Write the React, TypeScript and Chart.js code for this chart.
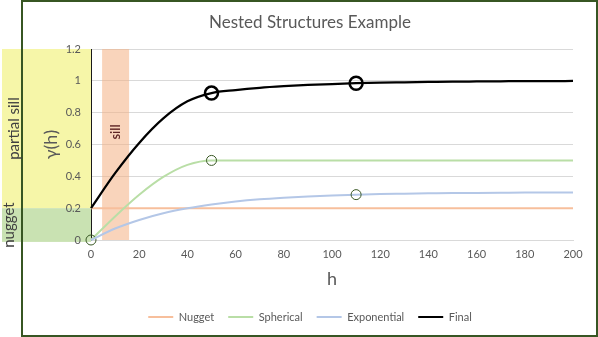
import React, { useEffect, useRef } from "react";
import { Chart, registerables } from "chart.js";

Chart.register(...registerables);

// ---- data ----
const hValues = [0, 10, 20, 30, 40, 50, 60, 70, 80, 90, 100, 110, 120, 130, 140, 150, 160, 170, 180, 190, 200];
const nugget = [0.2, 0.2, 0.2, 0.2, 0.2, 0.2, 0.2, 0.2, 0.2, 0.2, 0.2, 0.2, 0.2, 0.2, 0.2, 0.2, 0.2, 0.2, 0.2, 0.2, 0.2];
const spherical = [0, 0.148, 0.284, 0.396, 0.472, 0.5, 0.5, 0.5, 0.5, 0.5, 0.5, 0.5, 0.5, 0.5, 0.5, 0.5, 0.5, 0.5, 0.5, 0.5, 0.5];
const exponential = [0, 0.072, 0.126, 0.168, 0.199, 0.223, 0.242, 0.256, 0.266, 0.274, 0.28, 0.285, 0.289, 0.291, 0.293, 0.295, 0.296, 0.297, 0.298, 0.298, 0.299];
const finalModel = [0.2, 0.42, 0.61, 0.764, 0.871, 0.923, 0.942, 0.956, 0.966, 0.974, 0.98, 0.985, 0.989, 0.991, 0.993, 0.995, 0.996, 0.997, 0.998, 0.998, 0.999];

const seriesLabels = ["Nugget", "Spherical", "Exponential", "Final"];
const sphericalMarkers = [0, 50];
const exponentialMarkers = [110];
const finalMarkers = [50, 110];

const titleText = "Nested Structures Example";
const xTitle = "h";
const yTitle = "γ(h)";
const xRange = [0, 200];
const xStep = 20;
const yRange = [0, 1.2];
const yStep = 0.2;

// annotation ranges (value units)
const partialSillRange = [0.2, 1.2];
const nuggetRange = [-0.012, 0.2];
const sillBand = [4.6, 15.8];

const FONT = "Lato";
const TEXT = "#595959";

const toXY = (ys: number[]) => hValues.map((h, i) => ({ x: h, y: ys[i] }));

const annotations = {
  id: "annotations",
  beforeDraw(chart: any) {
    const { ctx, chartArea, scales } = chart;
    const y = scales.y;
    ctx.save();
    const left = 2;
    const yTop = y.getPixelForValue(partialSillRange[1]);
    const yMid = y.getPixelForValue(partialSillRange[0]);
    const yBot = y.getPixelForValue(nuggetRange[0]);
    ctx.fillStyle = "#F6F6A8";
    ctx.fillRect(left, yTop, chartArea.left - left, yMid - yTop);
    ctx.fillStyle = "#C9E2B2";
    ctx.fillRect(left, yMid, chartArea.left - left, yBot - yMid);

    // chart frame
    ctx.strokeStyle = "#375623";
    ctx.lineWidth = 2;
    ctx.strokeRect(22, 1, 575, 335);

    // rotated side labels
    ctx.fillStyle = "#404040";
    ctx.font = `15px ${FONT}`;
    ctx.textAlign = "center";
    ctx.textBaseline = "middle";
    ctx.save();
    ctx.translate(14, (yTop + yMid) / 2);
    ctx.rotate(-Math.PI / 2);
    ctx.fillText("partial sill", 0, 0);
    ctx.restore();
    ctx.save();
    ctx.translate(9, (yMid + yBot) / 2);
    ctx.rotate(-Math.PI / 2);
    ctx.fillText("nugget", 0, 0);
    ctx.restore();
    ctx.restore();
  },
  beforeDatasetsDraw(chart: any) {
    const { ctx, scales } = chart;
    const x = scales.x;
    const y = scales.y;
    ctx.save();
    const x0 = x.getPixelForValue(sillBand[0]);
    const x1 = x.getPixelForValue(sillBand[1]);
    const yT = y.getPixelForValue(yRange[1]);
    const yB = y.getPixelForValue(yRange[0]);
    ctx.fillStyle = "rgba(244,177,131,0.55)";
    ctx.fillRect(x0, yT, x1 - x0, yB - yT);
    ctx.fillStyle = "#5E2424";
    ctx.font = `600 13px ${FONT}`;
    ctx.textAlign = "center";
    ctx.textBaseline = "middle";
    ctx.translate((x0 + x1) / 2, 132);
    ctx.rotate(-Math.PI / 2);
    ctx.fillText("sill", 0, 0);
    ctx.restore();
  },
};

export default function App() {
  const ref = useRef<HTMLCanvasElement | null>(null);
  useEffect(() => {
    if (!ref.current) return;
    const markerRadius = (list: number[], r: number) => (c: any) =>
      c.raw && list.includes(c.raw.x) ? r : 0;
    const chart = new Chart(ref.current, {
      type: "line",
      data: {
        datasets: [
          {
            label: seriesLabels[0],
            data: toXY(nugget),
            borderColor: "#F7BF9C",
            backgroundColor: "#F7BF9C",
            borderWidth: 2,
            pointRadius: 0,
            order: 4,
            clip: false as any,
          },
          {
            label: seriesLabels[1],
            data: toXY(spherical),
            borderColor: "#B9DEA6",
            backgroundColor: "#B9DEA6",
            borderWidth: 2,
            cubicInterpolationMode: "monotone",
            pointRadius: markerRadius(sphericalMarkers, 5) as any,
            pointBorderColor: "#385723",
            pointBorderWidth: 1,
            pointBackgroundColor: "rgba(0,0,0,0)",
            order: 3,
            clip: false as any,
          },
          {
            label: seriesLabels[2],
            data: toXY(exponential),
            borderColor: "#B4C7E7",
            backgroundColor: "#B4C7E7",
            borderWidth: 2,
            cubicInterpolationMode: "monotone",
            pointRadius: markerRadius(exponentialMarkers, 5) as any,
            pointBorderColor: "#385723",
            pointBorderWidth: 1,
            pointBackgroundColor: "rgba(0,0,0,0)",
            order: 2,
            clip: false as any,
          },
          {
            label: seriesLabels[3],
            data: toXY(finalModel),
            borderColor: "#000000",
            backgroundColor: "#000000",
            borderWidth: 2.25,
            cubicInterpolationMode: "monotone",
            pointRadius: markerRadius(finalMarkers, 6.5) as any,
            pointBorderColor: "#000000",
            pointBorderWidth: 2.5,
            pointBackgroundColor: "rgba(0,0,0,0)",
            order: 1,
            clip: false as any,
          },
        ],
      },
      options: {
        animation: false,
        responsive: false,
        devicePixelRatio: 1,
        layout: { padding: { left: 47, right: 25, top: 0, bottom: 4.5 } },
        plugins: {
          tooltip: { enabled: false },
          title: {
            display: true,
            text: titleText,
            color: TEXT,
            font: { family: FONT, size: 17, weight: "normal" },
            padding: { top: 12.5, bottom: 16.1 },
          },
          legend: {
            position: "bottom",
            labels: {
              usePointStyle: true,
              pointStyle: "line",
              pointStyleWidth: 25,
              color: TEXT,
              font: { family: FONT, size: 11 },
              padding: 14,
              sort: (a: any, b: any) => a.datasetIndex - b.datasetIndex,
              generateLabels: (c: any) =>
                Chart.defaults.plugins.legend.labels.generateLabels(c).map((it: any) => ({
                  ...it,
                  strokeStyle: c.data.datasets[it.datasetIndex].borderColor,
                  fillStyle: c.data.datasets[it.datasetIndex].borderColor,
                  lineWidth: 2,
                  pointStyle: "line",
                })),
            },
          },
        },
        scales: {
          x: {
            type: "linear",
            min: xRange[0],
            max: xRange[1],
            ticks: { stepSize: xStep, color: TEXT, font: { family: FONT, size: 11 }, padding: 8 },
            grid: { display: false, drawTicks: false },
            border: { display: true, color: "#D9D9D9", width: 1 },
            title: {
              display: true,
              text: xTitle,
              color: TEXT,
              font: { family: FONT, size: 18 },
              padding: { top: 0, bottom: 7.7 },
            },
            afterFit: (s: any) => {
              s.height = 57.5;
            },
          },
          y: {
            type: "linear",
            min: yRange[0],
            max: yRange[1],
            ticks: {
              stepSize: yStep,
              color: TEXT,
              font: { family: FONT, size: 11 },
              padding: 10,
              callback: (v: any) => String(Number(Number(v).toFixed(1))),
            },
            grid: { color: "#D9D9D9", drawTicks: false },
            border: { display: true, color: "#1A1A1A", width: 1 },
            title: {
              display: true,
              text: yTitle,
              color: TEXT,
              font: { family: FONT, size: 18 },
              padding: { top: -6.8, bottom: 0 },
            },
            afterFit: (s: any) => {
              s.width = 44;
            },
          },
        },
      },
      plugins: [annotations],
    } as any);
    return () => chart.destroy();
  }, []);
  return (
    <div style={{ position: "fixed", left: 0, top: 0, width: 598, height: 337, background: "#fff" }}>
      <canvas ref={ref} width={598} height={337} style={{ display: "block" }} />
    </div>
  );
}
